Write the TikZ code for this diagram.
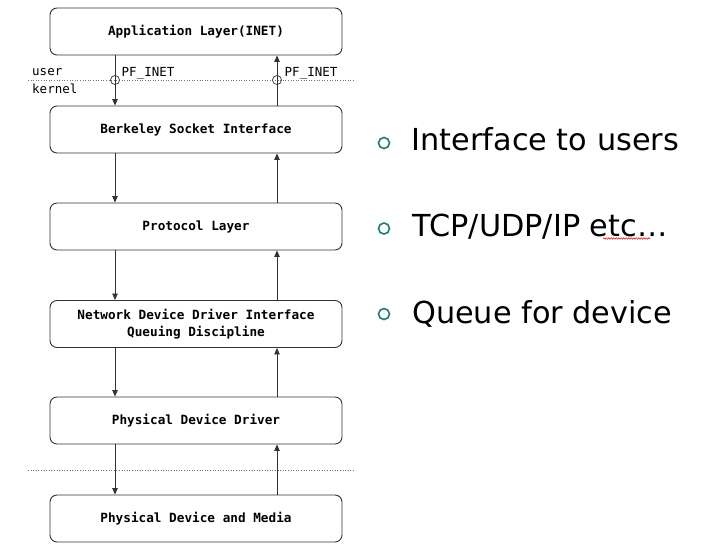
\documentclass[tikz,border=0pt]{standalone}
\usepackage{fontspec}
\setmainfont{DejaVu Sans}
\setmonofont{DejaVu Sans Mono}
\usetikzlibrary{arrows.meta,decorations.pathmorphing}
\definecolor{teal1}{HTML}{1E7B78}
\tikzset{
  layer/.style={draw=black!80, line width=0.9pt, rounded corners=7pt, minimum width=292pt, minimum height=47pt, inner sep=0pt, align=center, font=\ttfamily\bfseries\fontsize{12.7}{17.4}\selectfont},
  flow/.style={draw=black!80, line width=0.8pt, -{Triangle[length=6.5pt,width=5.5pt]}},
  sep/.style={draw=black!55, line width=0.6pt, dotted},
  lbl/.style={font=\ttfamily\fontsize{12.5}{14}\selectfont, inner sep=0pt},
  ring/.style={circle, draw=black!80, line width=0.7pt, minimum size=9pt, inner sep=0pt},
  bul/.style={circle, draw=teal1, line width=1.6pt, minimum size=11pt, inner sep=0pt},
  big/.style={font=\fontsize{30.3}{34}\selectfont, inner sep=0pt, anchor=base west}
}
\begin{document}
\begin{tikzpicture}[x=1pt,y=-1pt]
\useasboundingbox (0,0) rectangle (705,549);
\node[layer] (b1) at (196,31.5) {Application Layer(INET)};
\node[layer] (b2) at (196,129.5) {Berkeley Socket Interface};
\node[layer] (b3) at (196,226.5) {Protocol Layer};
\node[layer] (b4) at (196,324) {Network Device Driver Interface\\Queuing Discipline};
\node[layer] (b5) at (196,420.5) {Physical Device Driver};
\node[layer] (b6) at (196,518.5) {Physical Device and Media};
\coordinate (L) at (115,0);
\coordinate (R) at (277,0);
\coordinate (s1a) at (28,80);
\coordinate (s1b) at (355,80);
\coordinate (s2a) at (28,470);
\coordinate (s2b) at (355,470);
\draw[sep] (s1a) -- (s1b);
\draw[sep] (s2a) -- (s2b);
\node[ring] (rl) at (115,80) {};
\node[ring] (rr) at (277,80) {};
\draw[flow] (b1.south -| L) -- (b2.north -| L);
\draw[flow] (b2.north -| R) -- (b1.south -| R);
\draw[flow] (b2.south -| L) -- (b3.north -| L);
\draw[flow] (b3.north -| R) -- (b2.south -| R);
\draw[flow] (b3.south -| L) -- (b4.north -| L);
\draw[flow] (b4.north -| R) -- (b3.south -| R);
\draw[flow] (b4.south -| L) -- (b5.north -| L);
\draw[flow] (b5.north -| R) -- (b4.south -| R);
\draw[flow] (b5.south -| L) -- (b6.north -| L);
\draw[flow] (b6.north -| R) -- (b5.south -| R);
\node[lbl, anchor=base west] (user) at (32,75) {user};
\node[lbl, anchor=base west] (kern) at (32,93.5) {kernel};
\node[lbl, anchor=base west] (pf1) at (121.5,76.5) {PF\_INET};
\node[lbl, anchor=base west] (pf2) at (284.5,76.5) {PF\_INET};
\node[bul] (k1) at (384,143) {};
\node[bul] (k2) at (384,228.5) {};
\node[bul] (k3) at (384,314) {};
\node[big] (t1) at (411.5,150) {Interface to users};
\node[big] (t2) at (412.5,236.5) {TCP/UDP/IP etc…};
\node[big] (t3) at (412,323) {Queue for device};
\coordinate (w1) at (603,238.5);
\coordinate (w2) at (650,238.5);
\draw[red!85!black, line width=0.5pt, decorate, decoration={snake, amplitude=0.8pt, segment length=2.5pt}] (w1) -- (w2);
\end{tikzpicture}
\end{document}
